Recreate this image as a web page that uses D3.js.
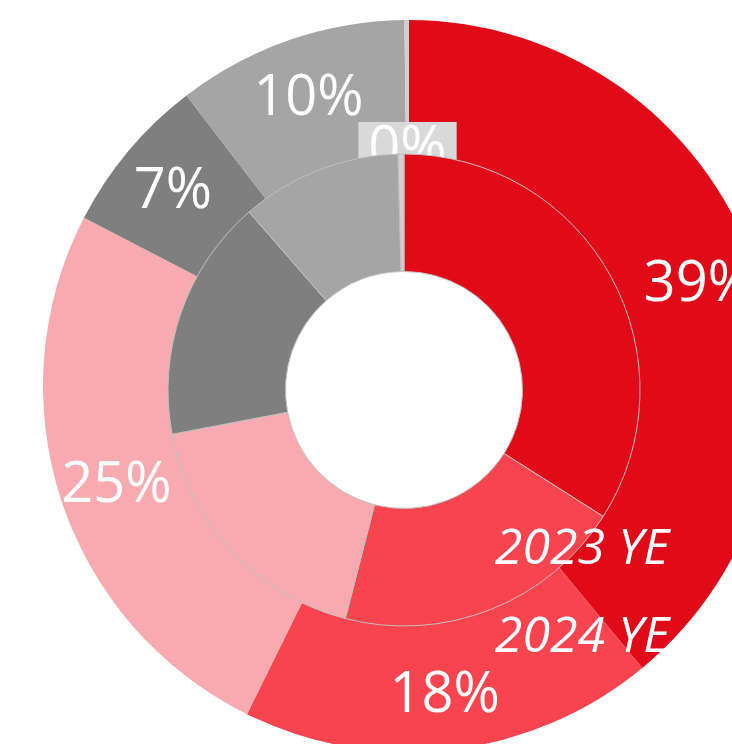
<!DOCTYPE html>
<html>
<head>
<meta charset="utf-8">
<script src="https://cdn.jsdelivr.net/npm/d3@7"></script>
<style>
  body { margin: 0; background: #fff; }
  text { font-family: "Open Sans", sans-serif; }
</style>
</head>
<body>
<div id="chart"></div>
<script>
var width = 732;
var height = 744;

// slices, clockwise from 12 o'clock
var categories = ["Category 1", "Category 2", "Category 3", "Category 4", "Category 5", "Category 6"];
var colours = ["#e10a19", "#f7444f", "#f7abb0", "#7f7f7f", "#a5a5a5", "#d0d0d0"];

// outer ring = 2024 YE, inner ring = 2023 YE (share of total, %)
var values2024 = [39.0, 18.3, 25.3, 7.0, 10.2, 0.2];
var values2023 = [34.0, 20.0, 18.0, 16.6, 11.0, 0.4];
var seriesNames = ["2023 YE", "2024 YE"];

var svg = d3.select("#chart").append("svg")
    .attr("width", width)
    .attr("height", height);

var pie = d3.pie().sort(null).value(function(d) { return d; });
var pct = d3.format(".0%");

// outer ring
var outer = svg.append("g").attr("transform", "translate(409,386)");
var outerArc = d3.arc().innerRadius(228).outerRadius(366);
var outerSlices = pie(values2024);
var total2024 = d3.sum(values2024);

outer.selectAll("path")
    .data(outerSlices)
  .enter().append("path")
    .attr("d", outerArc)
    .attr("fill", function(d, i) { return colours[i]; });

var labels = outer.selectAll("g.label")
    .data(outerSlices)
  .enter().append("g")
    .attr("class", "label")
    .attr("transform", function(d) {
      // tiny slices get pulled in towards the inner ring
      var r = d.value < 1 ? 240 : 308;
      var a = (d.startAngle + d.endAngle) / 2;
      return "translate(" + (r * Math.sin(a)) + "," + (-r * Math.cos(a)) + ")";
    });

labels.each(function(d) {
  var g = d3.select(this);
  var t = g.append("text")
      .attr("text-anchor", "middle")
      .attr("dy", "0.35em")
      .attr("fill", "#fff")
      .attr("font-size", 56)
      .text(pct(d.value / total2024));
  if (d.value < 1) {
    var bb = t.node().getBBox();
    g.insert("rect", "text")
      .attr("x", bb.x - 10)
      .attr("y", -24)
      .attr("width", bb.width + 20)
      .attr("height", 52)
      .attr("fill", "#d9d9d9");
  }
});

// inner ring drawn over the outer one
var inner = svg.append("g").attr("transform", "translate(404,390)");
var innerArc = d3.arc().innerRadius(118.5).outerRadius(236);

inner.selectAll("path")
    .data(pie(values2023))
  .enter().append("path")
    .attr("d", innerArc)
    .attr("fill", function(d, i) { return colours[i]; })
    .attr("stroke", "#c0c0c0")
    .attr("stroke-width", 1);

// series names
svg.selectAll("text.series")
    .data(seriesNames)
  .enter().append("text")
    .attr("class", "series")
    .attr("x", 582)
    .attr("y", function(d, i) { return 564 + i * 88; })
    .attr("text-anchor", "middle")
    .attr("font-size", 50)
    .attr("font-style", "italic")
    .attr("fill", "#fff")
    .text(function(d) { return d; });
</script>
</body>
</html>
